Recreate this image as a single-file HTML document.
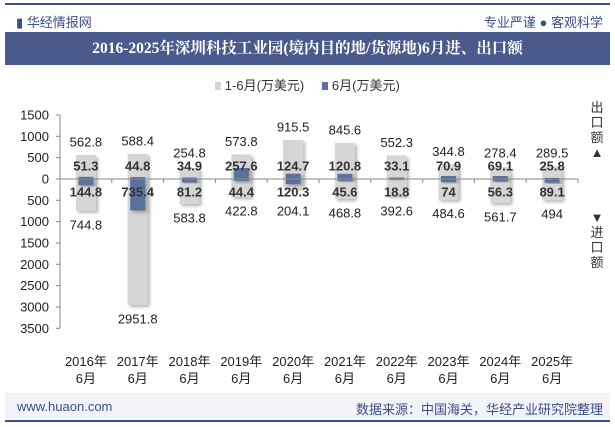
<!DOCTYPE html>
<html><head><meta charset="utf-8"><style>
body{margin:0;width:615px;height:427px;background:#fff;font-family:"Liberation Sans","Noto Sans CJK SC",sans-serif;overflow:hidden;position:relative}
.abs{position:absolute}
</style></head><body>
<div class="abs" style="left:5px;top:3px;width:605px;height:2px;background:#3c4f86"></div>
<div class="abs" style="left:16px;top:12px;font-size:13px;color:#3c4f86">▮ 华经情报网</div>
<div class="abs" style="right:12px;top:12px;font-size:13px;color:#3c4f86">专业严谨 ● 客观科学</div>
<div class="abs" style="left:5px;top:32px;width:605px;height:33px;background:#4a5a8c;color:#fff;font-weight:bold;font-size:15.5px;line-height:33px;text-align:center;font-family:'Liberation Serif','Noto Serif CJK SC',serif">2016-2025年深圳科技工业园(境内目的地/货源地)6月进、出口额</div>
<div class="abs" style="left:0;width:615px;top:75px;text-align:center;font-size:13px;color:#333">
<span><span style="display:inline-block;width:6px;height:8px;background:#d4d4d4"></span> 1-6月(万美元)</span>&nbsp;&nbsp;&nbsp;&nbsp;
<span><span style="display:inline-block;width:6px;height:8px;background:#5b6f9d"></span> 6月(万美元)</span></div>
<div class="abs" style="left:590px;top:100px;width:14px;font-size:13px;line-height:15px;color:#333;text-align:center">出<br>口<br>额<br>▲</div>
<div class="abs" style="left:590px;top:210px;width:14px;font-size:13px;line-height:15px;color:#333;text-align:center">▼<br>进<br>口<br>额</div>
<svg class="abs" style="left:0;top:0" width="615" height="427" id="chart"></svg>
<div class="abs" style="left:5px;top:393px;width:605px;height:26px;background:#f1f3f8"></div>
<div class="abs" style="left:5px;top:420px;width:605px;height:2px;background:#3c4f86"></div>
<div class="abs" style="left:17px;top:399px;font-size:13px;color:#3c4f86">www.huaon.com</div>
<div class="abs" style="right:12px;top:399px;font-size:13px;color:#3c4f86">数据来源：中国海关，华经产业研究院整理</div>
<script>
const years=["2016","2017","2018","2019","2020","2021","2022","2023","2024","2025"];
const expYtd=[562.8,588.4,254.8,573.8,915.5,845.6,552.3,344.8,278.4,289.5];
const expJun=[51.3,44.8,34.9,257.6,124.7,120.8,33.1,70.9,69.1,25.8];
const impJun=[144.8,735.4,81.2,44.4,120.3,45.6,18.8,74,56.3,89.1];
const impYtd=[744.8,2951.8,583.8,422.8,204.1,468.8,392.6,484.6,561.7,494];
const yTicks=[1500,1000,500,0,500,1000,1500,2000,2500,3000,3500];
const yTickSigned=[1500,1000,500,0,-500,-1000,-1500,-2000,-2500,-3000,-3500];
const svg=document.getElementById('chart');const NS="http://www.w3.org/2000/svg";
const x0=60,x1=578,zeroY=179,k=149.3/3500;
const y=v=>zeroY-v*k;const bw=(x1-x0)/years.length;const cx=i=>x0+bw*(i+0.5);
function mk(t,a,txt){const e=document.createElementNS(NS,t);for(const q in a)e.setAttribute(q,a[q]);if(txt!=null)e.textContent=txt;svg.appendChild(e);return e;}
const defs=mk('defs',{});defs.innerHTML='<filter id="sh" x="-30%" y="-10%" width="170%" height="130%"><feDropShadow dx="2" dy="2" stdDeviation="1.5" flood-color="#000" flood-opacity="0.3"/></filter>';
let ax=mk('line',{x1:x0,x2:x0,y1:y(1500),y2:y(-3500),stroke:'#888'});

yTicks.forEach((t,i)=>{const yy=y(yTickSigned[i]);mk('line',{x1:x0-4,x2:x0,y1:yy,y2:yy,stroke:'#888'});
const l=mk('text',{x:49,y:yy+4.5,'text-anchor':'end','font-size':13,fill:'#222'},t);
});
years.forEach((yr,i)=>{const c=cx(i);
const g=mk('rect',{x:c-10,y:y(expYtd[i]),width:20,height:(expYtd[i]+impYtd[i])*k,fill:'#d6d6d6',filter:'url(#sh)'});

const b=mk('rect',{x:c-7.5,y:y(expJun[i]),width:15,height:(expJun[i]+impJun[i])*k,fill:'#5b6f9d',filter:'url(#sh)'});

mk('line',{x1:x0+bw*(i+1),x2:x0+bw*(i+1),y1:zeroY,y2:zeroY+4,stroke:'#888'});
const t1=mk('text',{x:c,y:Math.min(y(expYtd[i])-13,153)+4.5,'text-anchor':'middle','font-size':13,fill:'#222'},expYtd[i]);

const t2=mk('text',{x:c,y:170.5,'text-anchor':'middle','font-size':13,'font-weight':'bold',fill:'#333'},expJun[i]);

const t3=mk('text',{x:c,y:196.5,'text-anchor':'middle','font-size':13,'font-weight':'bold',fill:'#333'},impJun[i]);

const t4=mk('text',{x:c,y:Math.max(y(-impYtd[i])+14,211)+4.5,'text-anchor':'middle','font-size':13,fill:'#222'},impYtd[i]);

const a=mk('text',{x:c,y:366,'text-anchor':'middle','font-size':13,fill:'#222'},yr+'年');

const a2=mk('text',{x:c,y:383,'text-anchor':'middle','font-size':13,fill:'#222'},'6月');

});
const z=mk('line',{x1:x0,x2:x1,y1:zeroY,y2:zeroY,stroke:'#888'});

</script>
</body></html>
